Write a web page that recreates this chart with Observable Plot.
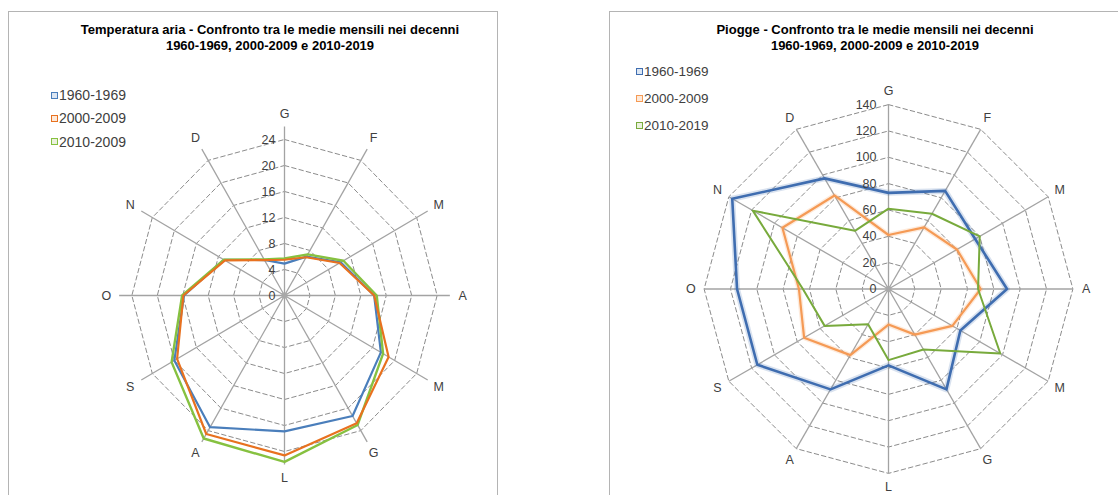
<!DOCTYPE html>
<html>
<head>
<meta charset="utf-8">
<script src="https://cdn.jsdelivr.net/npm/d3@7"></script>
<script src="https://cdn.jsdelivr.net/npm/@observablehq/plot@0.6"></script>
<style>
  body { margin: 0; background: #fff; font-family: "Liberation Sans", Arial, sans-serif; }
  #page { position: relative; width: 1118px; height: 495px; overflow: hidden; }
  .panel { position: absolute; border: 1.5px solid #b4b4b4; box-sizing: border-box; }
  .title { position: absolute; font-weight: bold; font-size: 13px; line-height: 15.5px; text-align: center;
           color: #000; white-space: nowrap; transform: translateX(-50%); }
  .item { position: absolute; display: flex; align-items: center; white-space: nowrap; color: #404040; height: 16px; }
  .sw { display: inline-block; width: 5px; height: 5px; border: 1.7px solid; margin-right: 1px; }
</style>
</head>
<body>
<div id="page">
  <div class="panel" style="left:8px;top:11px;width:490px;height:500px"></div>
  <div class="panel" style="left:609px;top:11px;width:520px;height:500px"></div>
</div>
<script>
// Month initials, clockwise from January at the top
const months = ["G", "F", "M", "A", "M", "G", "L", "A", "S", "O", "N", "D"];

// Air temperature, monthly means (°C)
const tempSeries = ["1960-1969", "2000-2009", "2010-2009"];
const temp1960 = [4.9, 6.9, 10.2, 14.1, 17.5, 21.4, 20.9, 23.4, 20.0, 15.8, 11.0, 6.3];
const temp2000 = [5.5, 6.8, 10.0, 14.1, 18.9, 22.7, 24.6, 24.6, 19.5, 15.9, 10.8, 6.3];
const temp2010 = [5.7, 7.3, 10.7, 14.5, 17.9, 23.0, 25.6, 25.4, 20.5, 16.1, 11.0, 6.4];
const tempTicks = [0, 4, 8, 12, 16, 20, 24];

// Rainfall, monthly means (mm)
const rainSeries = ["1960-1969", "2000-2009", "2010-2019"];
const rain1960 = [73, 86, 76, 90, 63, 88, 58, 88, 115, 115, 137, 97];
const rain2000 = [41, 54, 60, 70, 56, 40, 27, 58, 74, 68, 93, 82];
const rain2010 = [61, 66, 80, 68, 98, 53, 54, 31, 56, 65, 119, 51];
const rainTicks = [0, 20, 40, 60, 80, 100, 120, 140];

const page = document.getElementById("page");
const angle = i => i * 2 * Math.PI / months.length;
const toXY = (v, i) => ({x: v * Math.sin(angle(i)), y: v * Math.cos(angle(i))});

function radar(cfg) {
  const {ticks, spokeMax, labelR, values, colors, widths, glow, cx, cy, kx, ky, left, width, extent, tickDx} = cfg;
  const rings = ticks.filter(t => t > 0).flatMap(t => months.map((m, i) => ({tick: t, ...toXY(t, i)})));
  const spokes = months.map((m, i) => toXY(spokeMax, i));
  const labels = months.map((m, i) => ({label: m, ...toXY(labelR, i)}));
  const tickLabels = ticks.map(t => ({t, x: 0, y: t}));
  const lineMarks = values.flatMap((vals, s) => {
    const pts = vals.map((v, i) => ({value: v, ...toXY(v, i)}));
    const marks = [];
    if (glow[s]) marks.push(Plot.line(pts, {x: "x", y: "y", curve: "linear-closed", stroke: colors[s],
      strokeWidth: glow[s], strokeOpacity: 0.2, strokeLinejoin: "round"}));
    marks.push(Plot.line(pts, {x: "x", y: "y", curve: "linear-closed", stroke: colors[s],
      strokeWidth: widths[s], strokeLinejoin: "round"}));
    return marks;
  });
  const svg = Plot.plot({
    width, height: 495,
    x: {domain: [-extent, extent], range: [cx - left - extent * kx, cx - left + extent * kx], axis: null},
    y: {domain: [-extent, extent], range: [cy + extent * ky, cy - extent * ky], axis: null},
    style: {position: "absolute", left: left + "px", top: "0px", background: "transparent", overflow: "visible"},
    marks: [
      Plot.line(rings, {x: "x", y: "y", z: "tick", curve: "linear-closed", stroke: "#8c8c8c",
        strokeWidth: 1, strokeDasharray: "4.5,3"}),
      Plot.link(spokes, {x1: d => 0, y1: d => 0, x2: "x", y2: "y", stroke: "#a3a3a3", strokeWidth: 1.3}),
      Plot.dot([{x: 0, y: 0}], {x: "x", y: "y", r: 3, fill: "#a8a8a8"}),
      ...lineMarks,
      Plot.text(tickLabels, {x: "x", y: "y", text: d => String(d.t), textAnchor: "end", dx: tickDx,
        fontSize: 12.5, fill: "#404040", fontFamily: "Liberation Sans, Arial, sans-serif"}),
      Plot.text(labels, {x: "x", y: "y", text: "label", fontSize: 12.5, fill: "#404040",
        fontFamily: "Liberation Sans, Arial, sans-serif"})
    ]
  });
  page.appendChild(svg);
}

function title(lines, x) {
  const d = document.createElement("div");
  d.className = "title";
  d.style.left = x + "px";
  d.style.top = "22px";
  d.innerHTML = lines.join("<br>");
  page.appendChild(d);
}

function legend(names, colors, fills, x, ys, size) {
  names.forEach((n, i) => {
    const d = document.createElement("div");
    d.className = "item";
    d.style.left = x + "px";
    d.style.top = (ys[i] - 8) + "px";
    d.style.fontSize = size + "px";
    const sw = document.createElement("span");
    sw.className = "sw";
    sw.style.borderColor = colors[i];
    sw.style.background = fills[i];
    d.appendChild(sw);
    d.appendChild(document.createTextNode(n));
    page.appendChild(d);
  });
}

// Temperature radar
const tempColors = ["#4a7ebb", "#e8711f", "#86c140"];
radar({
  ticks: tempTicks, spokeMax: 26, labelR: 28, values: [temp1960, temp2010, temp2000],
  colors: [tempColors[0], tempColors[2], tempColors[1]], widths: [2.2, 2.4, 2.2], glow: [0, 0, 0],
  cx: 284, cy: 295, kx: 6.36, ky: 6.5, left: 0, width: 500, extent: 30, tickDx: -9
});
title(["Temperatura aria - Confronto tra le medie mensili nei decenni", "1960-1969, 2000-2009 e 2010-2019"], 270);
legend(tempSeries, tempColors, ["#dce6f2", "#fde9d9", "#ebf1de"], 51, [95, 118, 141.5], 14);

// Rainfall radar
const rainColors = ["#3f6db0", "#f59a55", "#78aa3c"];
radar({
  ticks: rainTicks, spokeMax: 140, labelR: 150, values: [rain1960, rain2000, rain2010],
  colors: rainColors, widths: [2.6, 2.2, 2], glow: [6, 5, 0],
  cx: 888, cy: 288.5, kx: 1.317, ky: 1.317, left: 600, width: 518, extent: 160, tickDx: -12
});
title(["Piogge - Confronto tra le medie mensili nei decenni", "1960-1969, 2000-2009 e 2010-2019"], 875);
legend(rainSeries, rainColors, ["#dce6f2", "#fde9d9", "#ebf1de"], 636, [71, 98, 125], 13.5);
</script>
</body>
</html>
